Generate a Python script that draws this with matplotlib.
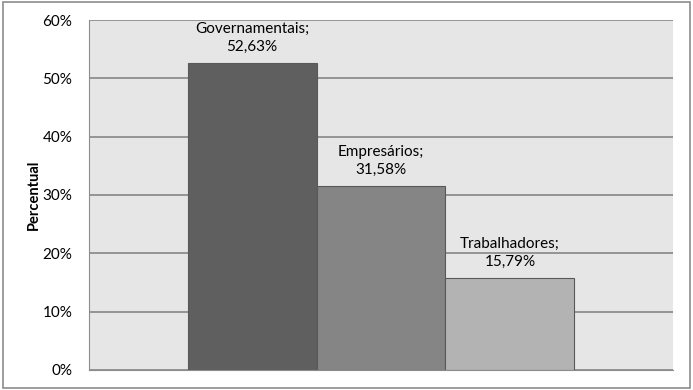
import matplotlib.pyplot as plt
from matplotlib.patches import Rectangle

plt.rcParams['font.family'] = ['Lato', 'DejaVu Sans']

# data
categorias = ['Governamentais', 'Empresários', 'Trabalhadores']
valores = [52.63, 31.58, 15.79]
rotulos = ['52,63%', '31,58%', '15,79%']
cores = ['#5f5f5f', '#858585', '#b3b3b3']
yticks = [0, 10, 20, 30, 40, 50, 60]

fig = plt.figure(figsize=(6.93, 3.90), dpi=100)
fig.patches.append(Rectangle((0.004, 0.006), 0.992, 0.988, transform=fig.transFigure,
                             fill=False, edgecolor='#8c8c8c', linewidth=1.2))

ax = fig.add_axes([0.1284, 0.0513, 0.8427, 0.8974])
ax.set_facecolor('#e6e6e6')

x = list(range(len(categorias)))
ax.bar(x, valores, width=1.0, color=cores, edgecolor='#595959', linewidth=0.8, zorder=3)

for xi, v, cat, rot in zip(x, valores, categorias, rotulos):
    ax.text(xi, v + 1.5, cat + ';\n' + rot, ha='center', va='bottom',
            fontsize=11, linespacing=1.4, zorder=4)

ax.set_xlim(-1.265, 3.265)
ax.set_ylim(0, 60)
ax.set_yticks(yticks)
ax.set_yticklabels([f'{t}%' for t in yticks], fontsize=11)
ax.tick_params(axis='y', length=0, pad=12)
ax.set_xticks([])
ax.grid(axis='y', color='#868686', linewidth=1.2, zorder=1)

for s in ['top', 'right']:
    ax.spines[s].set_visible(False)
ax.spines['left'].set_color('#8c8c8c')
ax.spines['bottom'].set_color('#8c8c8c')
ax.spines['bottom'].set_zorder(5)

ax.set_ylabel('Percentual', fontsize=10.5, fontweight='bold', labelpad=1)

fig.savefig('out.png', dpi=100)
